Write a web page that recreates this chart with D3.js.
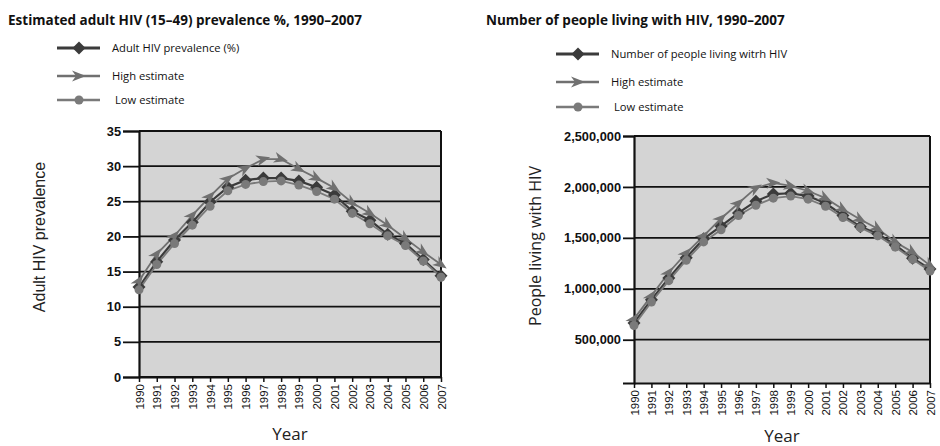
<!DOCTYPE html>
<html>
<head>
<meta charset="utf-8">
<script src="https://cdn.jsdelivr.net/npm/d3@7"></script>
<style>
  body { margin: 0; background: #fff; }
  svg { font-family: "Open Sans", sans-serif; }
</style>
</head>
<body>
<svg width="940" height="446"></svg>
<script>
const years = [1990, 1991, 1992, 1993, 1994, 1995, 1996, 1997, 1998, 1999, 2000, 2001, 2002, 2003, 2004, 2005, 2006, 2007];

// Adult HIV prevalence (%)
const prevMain = [12.8, 16.4, 19.5, 22.0, 24.9, 27.0, 28.0, 28.3, 28.3, 27.9, 27.0, 25.9, 23.6, 22.3, 20.3, 19.0, 16.7, 14.4];
const prevHigh = [13.7, 17.5, 20.1, 23.0, 25.7, 28.2, 29.7, 31.0, 31.0, 29.6, 28.3, 26.9, 24.8, 23.3, 21.6, 19.7, 17.8, 16.0];
const prevLow = [12.4, 16.0, 19.0, 21.6, 24.3, 26.5, 27.4, 27.8, 27.9, 27.3, 26.4, 25.3, 23.3, 21.8, 20.1, 18.7, 16.5, 14.2];
const prevTicks = [0, 5, 10, 15, 20, 25, 30, 35];

// Number of people living with HIV
const plhMain = [665000, 892000, 1105000, 1305000, 1490000, 1615000, 1745000, 1860000, 1930000, 1938000, 1910000, 1840000, 1720000, 1610000, 1540000, 1430000, 1300000, 1195000];
const plhHigh = [705000, 930000, 1160000, 1350000, 1520000, 1690000, 1840000, 1990000, 2040000, 2010000, 1960000, 1890000, 1780000, 1680000, 1590000, 1460000, 1360000, 1230000];
const plhLow = [640000, 870000, 1080000, 1280000, 1460000, 1580000, 1720000, 1820000, 1890000, 1910000, 1880000, 1810000, 1700000, 1600000, 1520000, 1410000, 1290000, 1175000];
const plhTicks = [500000, 1000000, 1500000, 2000000, 2500000];

const svg = d3.select('svg');

const colors = { main: '#3b3b3b', high: '#707070', low: '#7a7a7a' };

function marker(g, type, x, y, angle, color) {
    if (type === 'diamond') {
        g.append('path')
            .attr('d', 'M0,-6.5 L6.5,0 L0,6.5 L-6.5,0 Z')
            .attr('transform', `translate(${x},${y})`)
            .attr('fill', color);
    } else if (type === 'arrow') {
        g.append('path')
            .attr('d', 'M-7,-5.5 L7,0 L-7,5.5 L-3,0 Z')
            .attr('transform', `translate(${x},${y}) rotate(${angle})`)
            .attr('fill', color);
    } else {
        g.append('circle')
            .attr('cx', x)
            .attr('cy', y)
            .attr('r', 4.5)
            .attr('fill', color);
    }
}

function drawChart(opts) {
    const { left, right, top, bottom, domain, ticks, fmt, series, title, titleX, yTitle, yTitleX, yTitleFont, yearY, legend } = opts;
    const g = svg.append('g');

    const xScale = d3.scalePoint()
        .domain(years)
        .range([left, right]);
    const yScale = d3.scaleLinear()
        .domain(domain)
        .range([bottom, top]);

    // plot background
    g.append('rect')
        .attr('x', left)
        .attr('y', top)
        .attr('width', right - left)
        .attr('height', bottom - top)
        .attr('fill', '#d4d4d4');

    // gridlines
    g.selectAll('.grid')
        .data(ticks)
        .join('line')
        .attr('x1', left)
        .attr('x2', right)
        .attr('y1', d => yScale(d))
        .attr('y2', d => yScale(d))
        .attr('stroke', '#111')
        .attr('stroke-width', 1.8);

    // borders
    g.append('line')
        .attr('x1', right).attr('x2', right)
        .attr('y1', top).attr('y2', bottom)
        .attr('stroke', '#111').attr('stroke-width', 2);

    // Axes
    const yAxis = d3.axisLeft(yScale)
        .tickValues(ticks)
        .tickSize(opts.tickLen)
        .tickPadding(2)
        .tickFormat(fmt);
    const ya = g.append('g')
        .attr('transform', `translate(${left}, 0)`)
        .call(yAxis);
    ya.select('.domain').attr('stroke', '#111').attr('stroke-width', 2.2);
    ya.selectAll('.tick line').attr('stroke', '#111').attr('stroke-width', 1.8);
    ya.selectAll('.tick text')
        .style('font-size', '12.8px')
        .style('font-weight', 'bold')
        .attr('fill', '#111');

    const xAxis = d3.axisBottom(xScale)
        .tickSize(5)
        .tickSizeOuter(0)
        .tickPadding(3);
    const xa = g.append('g')
        .attr('transform', `translate(0, ${bottom})`)
        .call(xAxis);
    xa.select('.domain').attr('stroke', '#111').attr('stroke-width', 2);
    xa.selectAll('.tick line').attr('stroke', '#111').attr('stroke-width', 1.5);
    xa.selectAll('.tick text')
        .attr('transform', 'rotate(-90)')
        .attr('x', -7)
        .attr('y', 0)
        .attr('dy', '0.35em')
        .style('text-anchor', 'end')
        .style('font-size', '11.5px')
        .attr('fill', '#111');

    // Lines and markers
    const line = d3.line()
        .x((d, i) => xScale(years[i]))
        .y(d => yScale(d));
    series.forEach(s => {
        g.append('path')
            .attr('d', line(s.values))
            .attr('fill', 'none')
            .attr('stroke', s.color)
            .attr('stroke-width', s.type === 'diamond' ? 2.2 : 1.8);
    });
    series.forEach(s => {
        s.values.forEach((v, i) => {
            const x = xScale(years[i]);
            const y = yScale(v);
            const i0 = Math.max(0, i - 1);
            const i1 = Math.min(years.length - 1, i + 1);
            const angle = Math.atan2(yScale(s.values[i1]) - yScale(s.values[i0]),
                xScale(years[i1]) - xScale(years[i0])) * 180 / Math.PI;
            marker(g, s.type, x, y, angle, s.color);
        });
    });

    // Titles
    g.append('text')
        .text(title)
        .attr('x', titleX)
        .attr('y', 25)
        .style('font-size', '13.5px')
        .style('font-weight', 'bold')
        .attr('fill', '#111');
    g.append('text')
        .text(yTitle)
        .attr('transform', `translate(${yTitleX}, ${opts.yTitleY}) rotate(-90)`)
        .style('text-anchor', 'middle')
        .style('font-family', yTitleFont)
        .style('font-size', '16px')
        .attr('fill', '#222');
    g.append('text')
        .text('Year')
        .attr('x', (left + right) / 2)
        .attr('y', yearY)
        .style('text-anchor', 'middle')
        .style('font-size', '17px')
        .attr('fill', '#222');

    // Legend
    series.forEach((s, i) => {
        const ly = legend.ys[i];
        g.append('line')
            .attr('x1', legend.x)
            .attr('x2', legend.x + 43)
            .attr('y1', ly)
            .attr('y2', ly)
            .attr('stroke', s.color)
            .attr('stroke-width', s.type === 'diamond' ? 3 : 2.5);
        marker(g, s.type, legend.x + 22, ly, 0, s.color);
        g.append('text')
            .text(s.label)
            .attr('x', legend.x + 55 + (s.type === 'circle' ? 3 : 0))
            .attr('y', ly + 4)
            .style('font-size', '11.2px')
            .attr('fill', '#111');
    });
}

drawChart({
    left: 139, right: 441, top: 131, bottom: 377,
    domain: [0, 35],
    ticks: prevTicks,
    fmt: d3.format('d'),
    tickLen: 16,
    title: 'Estimated adult HIV (15–49) prevalence %, 1990–2007',
    titleX: 8,
    yTitle: 'Adult HIV prevalence',
    yTitleX: 45,
    yTitleY: 237,
    yTitleFont: '"Liberation Sans", Arial, sans-serif',
    yearY: 440,
    legend: { x: 57, ys: [48, 76, 100] },
    series: [
        { label: 'Adult HIV prevalence (%)', values: prevMain, type: 'diamond', color: colors.main },
        { label: 'High estimate', values: prevHigh, type: 'arrow', color: colors.high },
        { label: 'Low estimate', values: prevLow, type: 'circle', color: colors.low }
    ]
});

drawChart({
    left: 634, right: 930, top: 136, bottom: 383,
    domain: [75000, 2500000],
    ticks: plhTicks,
    fmt: d3.format(','),
    tickLen: 11,
    title: 'Number of people living with HIV, 1990–2007',
    titleX: 486,
    yTitle: 'People living with HIV',
    yTitleX: 541,
    yTitleY: 246,
    yTitleFont: '"Open Sans", sans-serif',
    yearY: 442,
    legend: { x: 556, ys: [54, 82, 107] },
    series: [
        { label: 'Number of people living witrh HIV', values: plhMain, type: 'diamond', color: colors.main },
        { label: 'High estimate', values: plhHigh, type: 'arrow', color: colors.high },
        { label: 'Low estimate', values: plhLow, type: 'circle', color: colors.low }
    ]
});
</script>
</body>
</html>
